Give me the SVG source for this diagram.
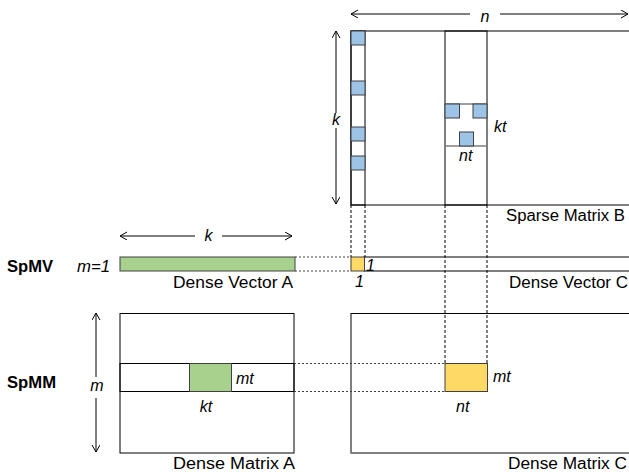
<svg xmlns="http://www.w3.org/2000/svg" width="629" height="472" viewBox="0 0 629 472">
<style>
.t{font-family:"Liberation Sans",Arial,sans-serif;font-size:16px;fill:#000}
.i{font-style:italic}
.b{font-weight:bold}
.box{fill:#fff;stroke:#000;stroke-width:1}
.frame{fill:none;stroke:#000;stroke-width:1}
.blue{fill:#9DC3E6;stroke:#404040;stroke-width:1}
.green{fill:#A9D18E;stroke:#404040;stroke-width:1}
.yellow{fill:#FFD966;stroke:#404040;stroke-width:1}
.gray{stroke:#7f7f7f;stroke-width:1.5;fill:none}
.dash{stroke:#000;stroke-width:1;stroke-dasharray:3,2;fill:none}
.dot{stroke:#404040;stroke-width:1;stroke-dasharray:2,2;fill:none}
.arr{stroke:#000;stroke-width:1;fill:none;marker-end:url(#ah)}
</style>
<defs>
<marker id="ah" markerUnits="userSpaceOnUse" markerWidth="10" markerHeight="10" refX="7" refY="4" orient="auto">
<path d="M0,0 L7,4 L0,8" fill="none" stroke="#000" stroke-width="1"/>
</marker>
</defs>
<rect width="629" height="472" fill="#fff"/>

<g id="sparse-matrix-b">
<rect class="box" x="351" y="31" width="300" height="174"/>
<line class="gray" x1="351" y1="31" x2="629" y2="31"/>
<rect class="frame" x="351" y="31" width="14" height="174"/>
<rect class="blue" x="351" y="31" width="14" height="14"/>
<rect class="blue" x="351" y="81" width="14" height="14"/>
<rect class="blue" x="351" y="127" width="14" height="14"/>
<rect class="blue" x="351" y="156" width="14" height="14"/>
<rect class="frame" x="445" y="31" width="42" height="174"/>
<line class="gray" x1="445" y1="104" x2="487" y2="104"/>
<line class="gray" x1="445" y1="146" x2="487" y2="146"/>
<rect class="blue" x="445" y="104" width="14.5" height="14"/>
<rect class="blue" x="473" y="104" width="14" height="14"/>
<rect class="blue" x="459.5" y="132" width="14" height="14"/>
<text class="t i" x="494" y="132">kt</text>
<text class="t i" x="459" y="160.5">nt</text>
<text class="t" x="506" y="220.5" textLength="119" lengthAdjust="spacingAndGlyphs">Sparse Matrix B</text>
</g>

<g id="dense-vector-a">
<rect class="green" x="120" y="257" width="175" height="14"/>
<text class="t" x="173" y="287.5" textLength="120" lengthAdjust="spacingAndGlyphs">Dense Vector A</text>
</g>

<g id="dense-vector-c">
<rect class="box" x="364" y="257" width="280" height="14"/>
<rect class="yellow" x="351" y="257" width="13.5" height="14"/>
<text class="t i" x="366" y="271">1</text>
<text class="t i" x="355" y="286.5">1</text>
<text class="t" x="509" y="287.5" textLength="119" lengthAdjust="spacingAndGlyphs">Dense Vector C</text>
</g>

<g id="dense-matrix-a">
<rect class="box" x="120" y="313.5" width="174" height="139.5"/>
<rect class="frame" x="120" y="363.5" width="174" height="28"/>
<rect class="green" x="189.5" y="363.5" width="42" height="28"/>
<text class="t i" x="236" y="383.5">mt</text>
<text class="t i" x="206" y="412" text-anchor="middle">kt</text>
<text class="t" x="173" y="468.5" textLength="122" lengthAdjust="spacingAndGlyphs">Dense Matrix A</text>
</g>

<g id="dense-matrix-c">
<rect class="box" x="351" y="313.5" width="300" height="139.5"/>
<line class="gray" x1="351" y1="453" x2="629" y2="453"/>
<rect class="yellow" x="445" y="363.5" width="42.5" height="28"/>
<text class="t i" x="493" y="381.5">mt</text>
<text class="t i" x="456" y="412">nt</text>
<text class="t" x="508" y="468.5" textLength="119" lengthAdjust="spacingAndGlyphs">Dense Matrix C</text>
</g>

<g id="row-labels">
<text class="t b" x="7" y="271.5" textLength="46" lengthAdjust="spacingAndGlyphs">SpMV</text>
<text class="t i" x="77" y="271.5" textLength="33" lengthAdjust="spacingAndGlyphs">m=1</text>
<text class="t b" x="7" y="387.5" textLength="49" lengthAdjust="spacingAndGlyphs">SpMM</text>
</g>

<g id="connectors">
<line class="dash" x1="351" y1="205" x2="351" y2="257"/>
<line class="dash" x1="365" y1="205" x2="365" y2="257"/>
<line class="dash" x1="445" y1="205" x2="445" y2="363.5"/>
<line class="dash" x1="487" y1="205" x2="487" y2="363.5"/>
<line class="dot" x1="295" y1="257" x2="351" y2="257"/>
<line class="dot" x1="295" y1="271" x2="351" y2="271"/>
<line class="dot" x1="294" y1="363.5" x2="445" y2="363.5"/>
<line class="dot" x1="294" y1="391.5" x2="445" y2="391.5"/>

<line class="arr" x1="470" y1="14" x2="351" y2="14"/>
<line class="arr" x1="500" y1="14" x2="628" y2="14"/>
<text class="t i" x="485" y="21.5" text-anchor="middle">n</text>

<line class="arr" x1="336" y1="113" x2="336" y2="31"/>
<line class="arr" x1="336" y1="128" x2="336" y2="204"/>
<text class="t i" x="336" y="125" text-anchor="middle">k</text>

<line class="arr" x1="195" y1="236" x2="120" y2="236"/>
<line class="arr" x1="222" y1="236" x2="292" y2="236"/>
<text class="t i" x="208.5" y="241" text-anchor="middle">k</text>

<line class="arr" x1="96" y1="377" x2="96" y2="313"/>
<line class="arr" x1="96" y1="398" x2="96" y2="452"/>
<text class="t i" x="97" y="391" text-anchor="middle">m</text>
</g>
</svg>
